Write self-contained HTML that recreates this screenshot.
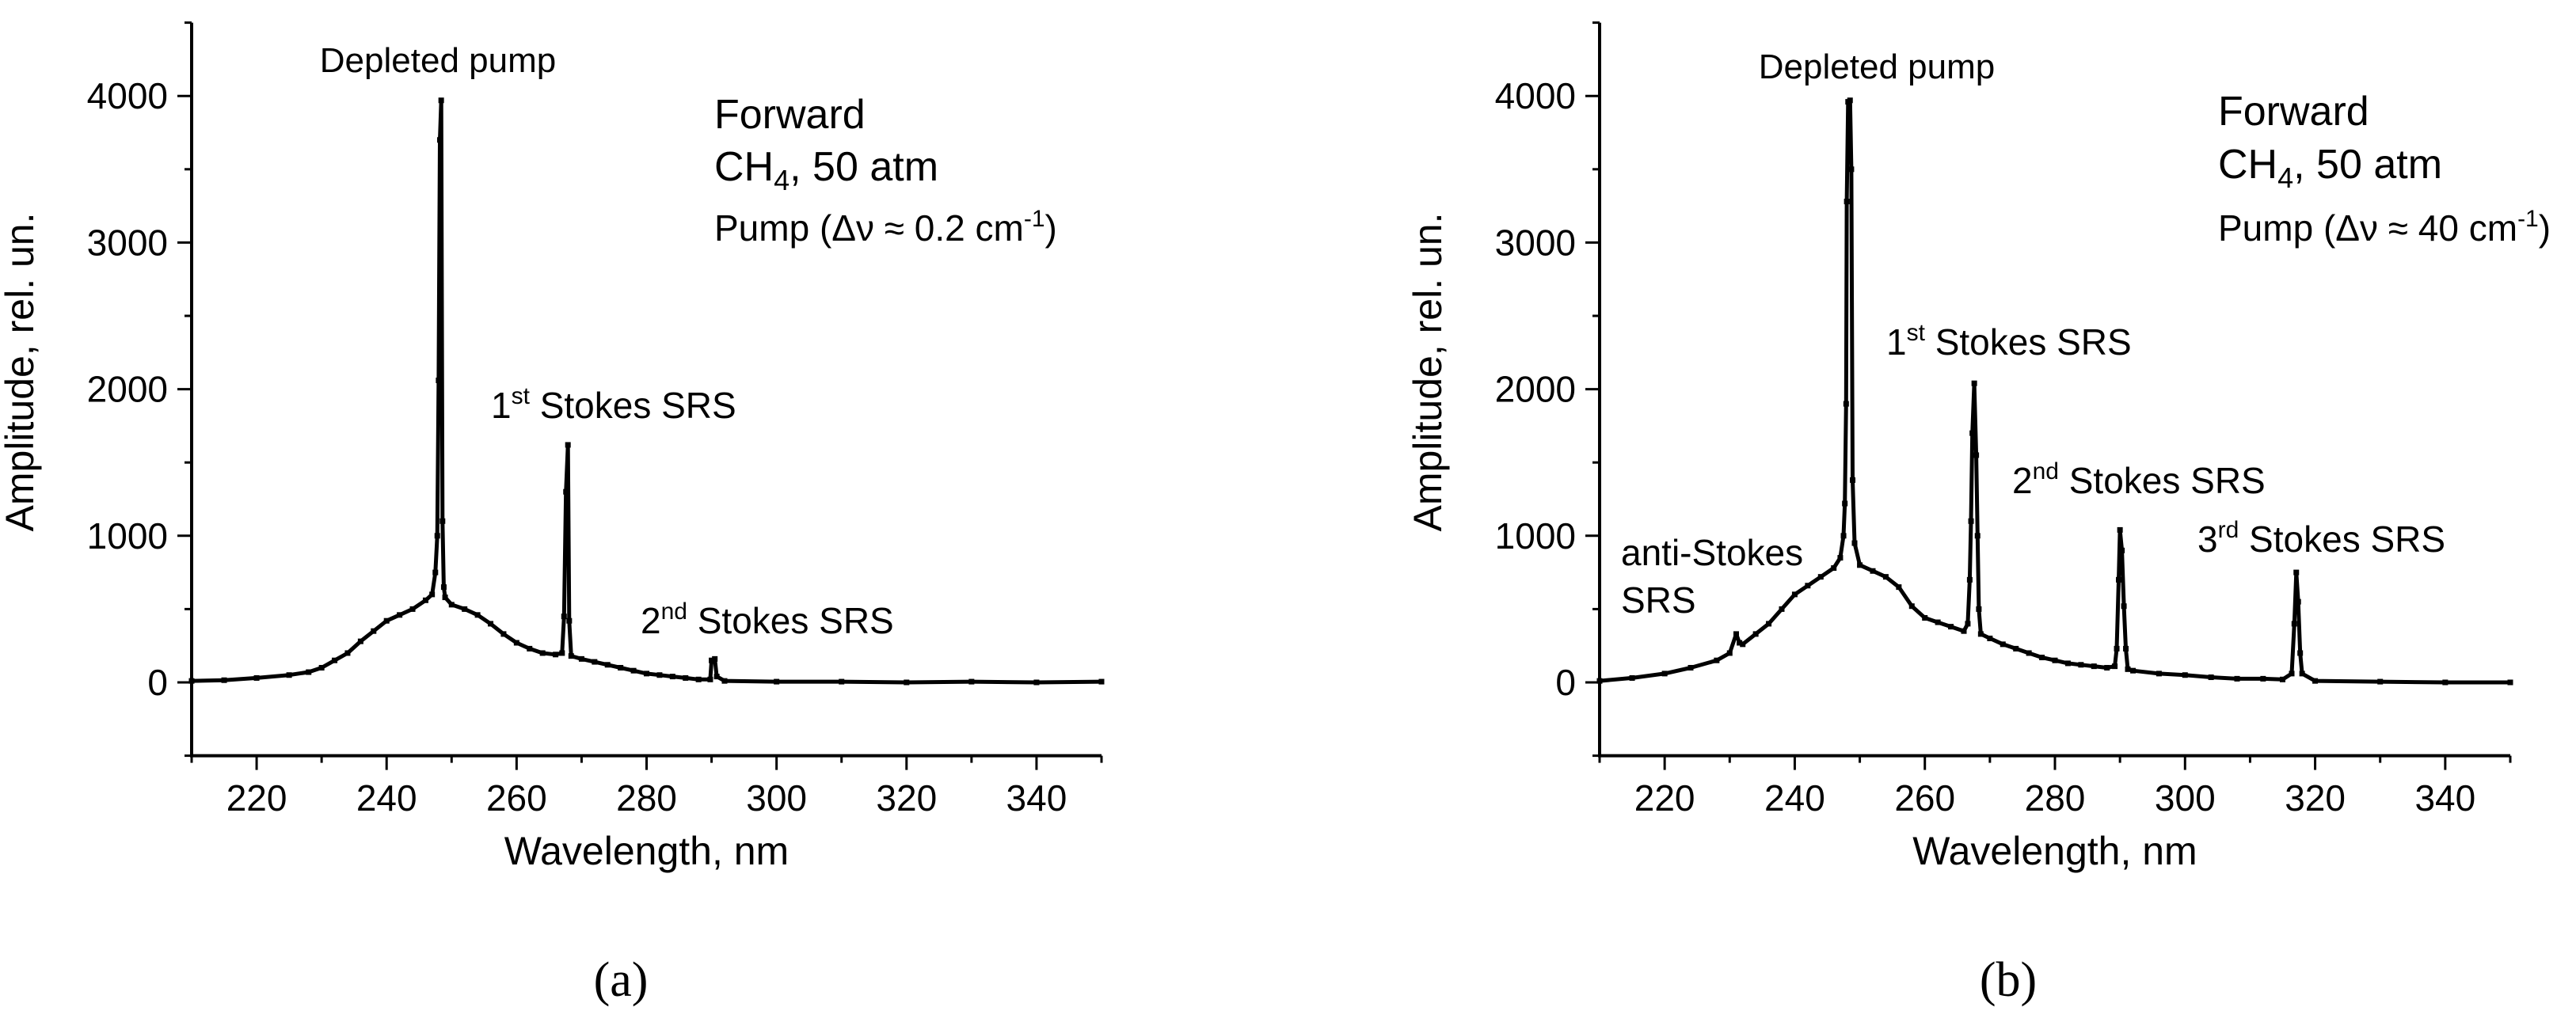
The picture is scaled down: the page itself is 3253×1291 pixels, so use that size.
<!DOCTYPE html>
<html><head><meta charset="utf-8"><style>
html,body{margin:0;padding:0;background:#fff;}
svg{display:block;font-family:"Liberation Sans",sans-serif;}
</style></head><body>
<svg id="fig" width="3253" height="1291" viewBox="0 0 3253 1291" xmlns="http://www.w3.org/2000/svg">
<g id="pa"></g>
<g id="pb"></g>
</svg>
<script>
const xTicks = [220, 240, 260, 280, 300, 320, 340];
const yTicks = [0, 1000, 2000, 3000, 4000];
const seriesAx = [210,215,220,225,228,230,232,234,236,238,240,242,244,246,247,247.5,247.8,248.0,248.2,248.4,248.6,248.8,249,250,252,254,256,258,260,262,264,266,267,267.3,267.6,267.9,268.1,268.4,270,272,274,276,278,280,282,284,286,288,289.8,290,290.5,290.8,292,300,310,320,330,340,350];
const seriesAy = [10,15,30,50,70,100,150,200,280,350,420,460,500,560,600,750,1000,2060,3700,3970,1100,650,580,530,500,460,400,330,270,230,200,190,200,450,1300,1620,420,180,160,140,120,100,80,60,50,40,30,20,20,150,160,40,10,5,5,0,5,0,5];
const seriesBx = [210,215,220,224,228,230,231,231.5,232,234,236,238,240,242,244,246,247,247.5,247.7,247.9,248.0,248.2,248.5,248.7,248.9,249.2,250,252,254,256,258,260,262,264,266,266.6,266.9,267.1,267.3,267.6,267.9,268.1,268.3,268.6,270,272,274,276,278,280,282,284,286,288,289.2,289.5,289.8,290,290.3,290.6,290.9,291.2,292,296,300,304,308,312,315,316.4,316.8,317.1,317.4,317.7,318,320,330,340,350];
const seriesBy = [10,30,60,100,150,200,330,270,260,330,400,500,600,660,720,780,850,1000,1220,1900,3280,3960,3970,3500,1380,950,800,760,720,650,520,440,410,380,350,400,700,1100,1700,2040,1550,1000,500,330,300,260,230,200,170,150,130,120,110,100,110,230,700,1040,900,520,230,90,80,60,50,35,25,25,20,60,400,750,550,200,60,10,5,0,0];

const NS = "http://www.w3.org/2000/svg";
function mk(parent, tag, attrs, txt){
  const e = document.createElementNS(NS, tag);
  for (const k in attrs) e.setAttribute(k, attrs[k]);
  if (txt !== undefined) e.textContent = txt;
  parent.appendChild(e);
  return e;
}
const Y0 = 862, YPER = 185.2; // 0 -> 862, per 1000 units
function yS(v){ return Y0 - v/1000*YPER; }
const yTop = yS(4500), yBot = yS(-500);

function panel(g, x0, x1, xs, ys, labelX, labelText){
  const xS = v => x0 + (v-210)/(350-210)*(x1-x0);
  // axes
  const ax = mk(g,'path',{d:`M${x0} ${yTop} L${x0} ${yBot} L${x1} ${yBot}`,fill:'none',stroke:'#000','stroke-width':4});
  
  
  for (let v=210; v<=350; v+=10){
    const major = xTicks.includes(v);
    const t = mk(g,'line',{x1:xS(v),x2:xS(v),y1:yBot,y2:yBot+(major?18:9),stroke:'#000','stroke-width':3});
    
    
  }
  xTicks.forEach(v=>{
    const t = mk(g,'text',{x:xS(v),y:1024,'font-size':46,'text-anchor':'middle'},String(v));
    
    
  });
  for (let v=-500; v<=4500; v+=500){
    const major = yTicks.includes(v);
    const t = mk(g,'line',{x1:x0-(major?18:9),x2:x0,y1:yS(v),y2:yS(v),stroke:'#000','stroke-width':3});
    
    
  }
  yTicks.forEach(v=>{
    const t = mk(g,'text',{x:x0-30,y:yS(v)+16,'font-size':46,'text-anchor':'end'},String(v));
    
    
  });
  const xt = mk(g,'text',{x:(x0+x1)/2,y:1092,'font-size':50,'text-anchor':'middle'},'Wavelength, nm');
  
  
  const ycx = x0-200;
  const yt = mk(g,'text',{x:ycx,y:470,'font-size':50,'text-anchor':'middle',transform:`rotate(-90 ${ycx} 470)`},'Amplitude, rel. un.');
  
  
  // series
  const pts = xs.map((x,i)=>xS(x).toFixed(1)+','+yS(ys[i]).toFixed(1)).join(' ');
  const pl = mk(g,'polyline',{points:pts,fill:'none',stroke:'#000','stroke-width':5,'stroke-linejoin':'round'});
  
  
  xs.forEach((x,i)=>{
    const r = mk(g,'rect',{x:xS(x)-3.5,y:yS(ys[i])-3.5,width:7,height:7,fill:'#000'});
    
    
  });
  const cap = mk(g,'text',{x:labelX,y:1258,'font-size':62,'text-anchor':'middle','font-family':'Liberation Serif, serif'},labelText);
  
  
}
const ga = document.getElementById('pa'), gb = document.getElementById('pb');
panel(ga, 242, 1391, seriesAx, seriesAy, 784, '(a)');
panel(gb, 2020, 3170, seriesBx, seriesBy, 2536, '(b)');

function ann(g, html, name){
  g.insertAdjacentHTML('beforeend', html);
  const e = g.lastElementChild;
  
  
}
// Panel a annotations
ann(ga,'<text x="553" y="91" font-size="44" text-anchor="middle">Depleted pump</text>','label-depleted-pump');
ann(ga,'<text x="902" y="162" font-size="52">Forward</text>','label-forward');
ann(ga,'<text x="902" y="228" font-size="52">CH<tspan font-size="36" dy="12">4</tspan><tspan dy="-12">, 50 atm</tspan></text>','label-gas');
ann(ga,'<text x="902" y="304" font-size="46">Pump (Δν ≈ 0.2 cm<tspan font-size="30" dy="-18">-1</tspan><tspan dy="18">)</tspan></text>','label-pump-linewidth');
ann(ga,'<text x="620" y="528" font-size="46">1<tspan font-size="30" dy="-18">st</tspan><tspan dy="18"> Stokes SRS</tspan></text>','label-1st-stokes');
ann(ga,'<text x="809" y="800" font-size="46">2<tspan font-size="30" dy="-18">nd</tspan><tspan dy="18"> Stokes SRS</tspan></text>','label-2nd-stokes');
// Panel b annotations
ann(gb,'<text x="2370" y="99" font-size="44" text-anchor="middle">Depleted pump</text>','label-depleted-pump');
ann(gb,'<text x="2801" y="158" font-size="52">Forward</text>','label-forward');
ann(gb,'<text x="2801" y="225" font-size="52">CH<tspan font-size="36" dy="12">4</tspan><tspan dy="-12">, 50 atm</tspan></text>','label-gas');
ann(gb,'<text x="2801" y="304" font-size="46">Pump (Δν ≈ 40 cm<tspan font-size="30" dy="-18">-1</tspan><tspan dy="18">)</tspan></text>','label-pump-linewidth');
ann(gb,'<text x="2382" y="448" font-size="46">1<tspan font-size="30" dy="-18">st</tspan><tspan dy="18"> Stokes SRS</tspan></text>','label-1st-stokes');
ann(gb,'<text x="2541" y="623" font-size="46">2<tspan font-size="30" dy="-18">nd</tspan><tspan dy="18"> Stokes SRS</tspan></text>','label-2nd-stokes');
ann(gb,'<text x="2775" y="697" font-size="46">3<tspan font-size="30" dy="-18">rd</tspan><tspan dy="18"> Stokes SRS</tspan></text>','label-3rd-stokes');
ann(gb,'<text x="2047" y="714" font-size="46">anti-Stokes</text>','label-anti-stokes');
ann(gb,'<text x="2047" y="774" font-size="46">SRS</text>','label-anti-stokes-srs');
</script>
</body></html>
